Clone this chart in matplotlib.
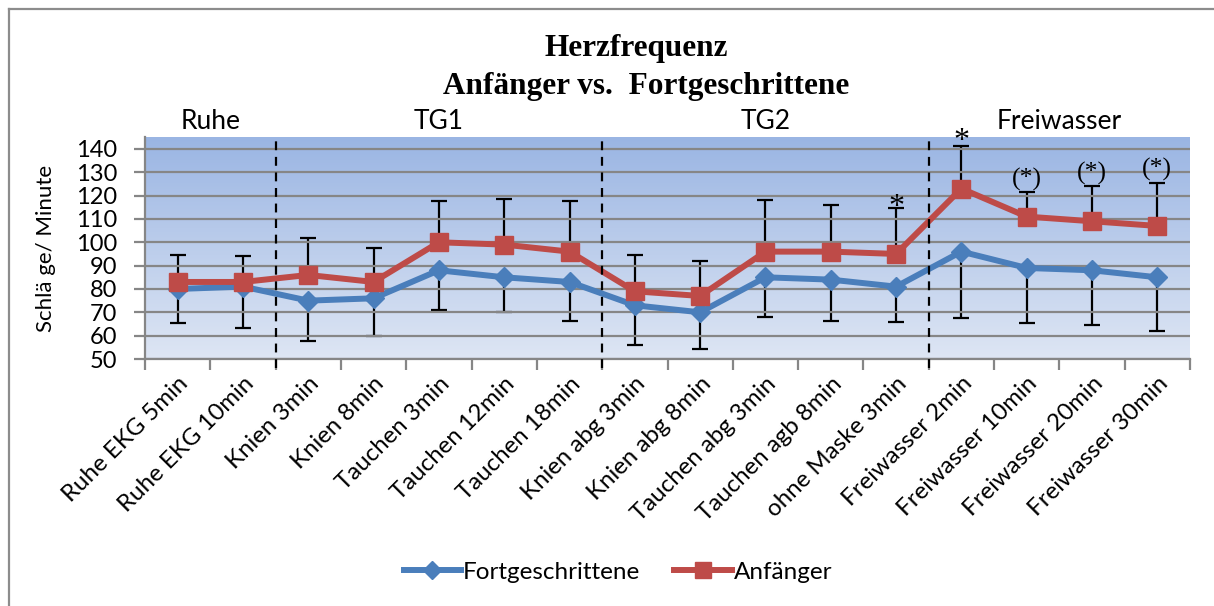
import matplotlib
matplotlib.use("Agg")
import matplotlib.pyplot as plt
import matplotlib.transforms as mtransforms
from matplotlib.colors import LinearSegmentedColormap
from matplotlib.lines import Line2D
import numpy as np

# ---------- data ----------
categories = [
    "Ruhe EKG 5min", "Ruhe EKG 10min",
    "Knien 3min", "Knien 8min", "Tauchen 3min", "Tauchen 12min", "Tauchen 18min",
    "Knien abg 3min", "Knien abg 8min", "Tauchen abg 3min", "Tauchen agb 8min",
    "ohne Maske 3min",
    "Freiwasser 2min", "Freiwasser 10min", "Freiwasser 20min", "Freiwasser 30min",
]
fortgeschrittene = [80, 81, 75, 76, 88, 85, 83, 73, 70, 85, 84, 81, 96, 89, 88, 85]
fort_sd_minus = [14.6, 17.7, 17.2, 16.0, 17.0, 14.9, 16.7, 17.0, 15.6, 16.9, 17.7, 15.0,
                 28.6, 23.5, 23.5, 23.0]
anfaenger = [83, 83, 86, 83, 100, 99, 96, 79, 77, 96, 96, 95, 123, 111, 109, 107]
anf_sd_plus = [11.6, 11.0, 16.0, 14.6, 17.8, 19.4, 21.7, 15.6, 14.8, 22.0, 20.0, 19.6,
               18.2, 10.4, 15.2, 18.6]

sections = ["Ruhe", "TG1", "TG2", "Freiwasser"]
section_sizes = [2, 5, 5, 4]

# significance marks: (category index, text, y position)
marks = [(11, "*", 115.0), (12, "*", 143.3), (13, "(*)", 127.0), (14, "(*)", 129.6),
         (15, "(*)", 131.0)]

BLUE = "#4a7ebb"
RED = "#be4b48"
SANS = ["Lato", "DejaVu Sans"]
SERIF = ["Liberation Serif", "DejaVu Serif"]

fig = plt.figure(figsize=(12.14, 6.06), dpi=100)
ax = fig.add_axes([145 / 1214, 1 - 359 / 606, 1045 / 1214, 222 / 606])

x = np.arange(len(categories))
ymin, ymax = 50, 145.1
ax.set_xlim(-0.5, len(categories) - 0.5)
ax.set_ylim(ymin, ymax)

# gradient background
cmap = LinearSegmentedColormap.from_list("bg", ["#dee6f4", "#9ab5e3"])
grad = np.linspace(0, 1, 256).reshape(-1, 1)
ax.imshow(grad, cmap=cmap, origin="lower", aspect="auto",
          extent=(-0.5, len(categories) - 0.5, ymin, ymax), zorder=0)

ax.set_yticks(np.arange(50, 141, 10))
ax.yaxis.grid(True, color="#868686", lw=1.6, zorder=1)
ax.set_axisbelow(False)
for s in ["top", "right"]:
    ax.spines[s].set_visible(False)
for s in ["left", "bottom"]:
    ax.spines[s].set_color("#868686")
    ax.spines[s].set_linewidth(1.6)
    ax.spines[s].set_zorder(1.5)

ax.set_xticks(np.arange(-0.5, len(categories), 1.0))
ax.set_xticklabels([])
ax.set_xticks(x, minor=True)
ax.set_xticklabels(categories, minor=True, rotation=45, ha="right", va="top",
                   rotation_mode="anchor", fontsize=17.3, family=SANS)
ax.tick_params(axis="x", which="major", length=8, width=1.6, color="#868686")
ax.tick_params(axis="x", which="minor", length=0, pad=10)
ax.tick_params(axis="y", length=8, width=1.6, color="#868686", labelsize=17, pad=12)
for lab in ax.get_yticklabels():
    lab.set_family(SANS)

ax.set_ylabel("Schlä ge/ Minute", fontsize=16, family=SANS, labelpad=14)

# series with one-sided error bars
ax.errorbar(x, fortgeschrittene, yerr=[fort_sd_minus, np.zeros(len(x))], fmt="none",
            ecolor="black", elinewidth=1.6, capsize=6, capthick=1.6, zorder=2)
ax.errorbar(x, anfaenger, yerr=[np.zeros(len(x)), anf_sd_plus], fmt="none",
            ecolor="black", elinewidth=1.6, capsize=6, capthick=1.6, zorder=2)
ax.plot(x, fortgeschrittene, color=BLUE, lw=4.3, marker="D", ms=10.5, zorder=3,
        label="Fortgeschrittene")
ax.plot(x, anfaenger, color=RED, lw=4.3, marker="s", ms=13.5, zorder=4,
        label="Anfänger")

# section separators and headers
trans = mtransforms.blended_transform_factory(ax.transData, ax.transAxes)
start = -0.5
for i, (name, n) in enumerate(zip(sections, section_sizes)):
    end = start + n
    ax.text((start + end) / 2, 1.068, name, transform=trans, ha="center", va="center",
            fontsize=19, family=SANS)
    if i < len(sections) - 1:
        ax.plot([end, end], [-0.04, 1.0], transform=trans, color="black", lw=1.6,
                ls=(0, (4, 3)), clip_on=False, zorder=5)
    start = end

for idx, txt, yv in marks:
    ax.text(idx, yv, txt, ha="center", va="center", fontsize=23 if txt == "*" else 18.5,
            family=SERIF, zorder=6, clip_on=False)

# titles
fig.text(636 / 1214, 1 - 56 / 606, "Herzfrequenz", ha="center", va="baseline",
         fontsize=22.5, fontweight="bold", family=SERIF)
fig.text(646 / 1214, 1 - 94 / 606, "Anfänger vs.  Fortgeschrittene", ha="center",
         va="baseline", fontsize=22.5, fontweight="bold", family=SERIF)

# legend
ax.legend(loc="center", bbox_to_anchor=(618 / 1214, 1 - 572 / 606),
          bbox_transform=fig.transFigure, ncol=2, frameon=False,
          prop={"family": SANS, "size": 17.5}, handlelength=2.35, handletextpad=0.1,
          columnspacing=1.4, markerscale=0.85)

# outer frame (left and top edge visible)
fig.add_artist(Line2D([9 / 1214, 9 / 1214], [0, 1 - 9 / 606], transform=fig.transFigure,
                      color="#8c8c8c", lw=1.6))
fig.add_artist(Line2D([9 / 1214, 1], [1 - 9 / 606, 1 - 9 / 606], transform=fig.transFigure,
                      color="#8c8c8c", lw=1.6))

fig.savefig("out.png", dpi=100)
